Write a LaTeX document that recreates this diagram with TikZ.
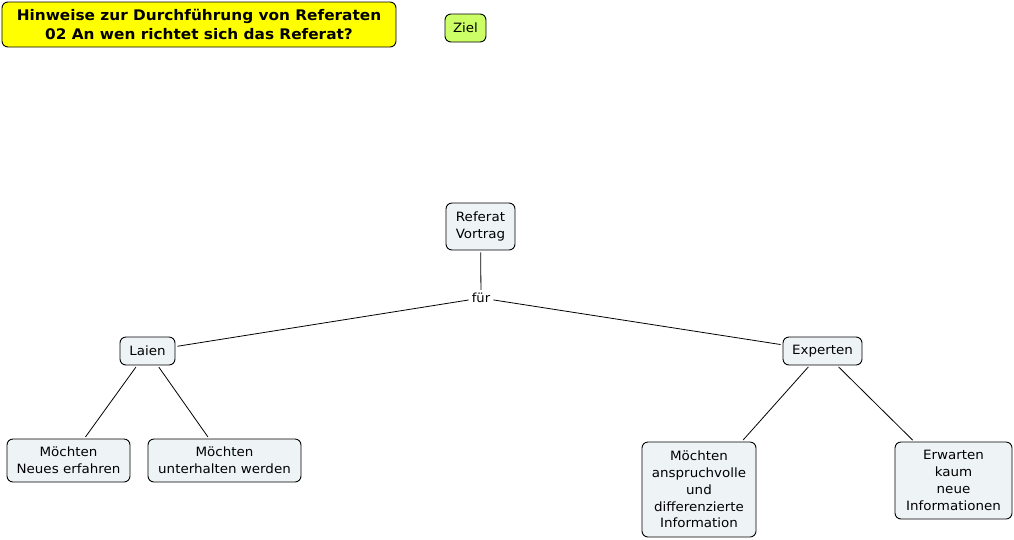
\documentclass[tikz,border=0pt]{standalone}
\usepackage{fontspec}
\setmainfont{DejaVu Sans}[FakeStretch=1.05]
\definecolor{conceptfill}{RGB}{238,244,246}
\definecolor{titlefill}{RGB}{255,255,0}
\definecolor{zielfill}{RGB}{204,255,102}
\begin{document}
\begin{tikzpicture}[
			x=1pt,y=-1pt,
			concept/.style={draw,line width=0.9pt,rounded corners=6pt,fill=conceptfill,align=center,
				font=\fontsize{12.8}{16.8}\selectfont,inner xsep=4pt,inner ysep=3pt},
			linkword/.style={font=\fontsize{12.5}{14}\selectfont,inner sep=1pt},
			link/.style={draw,line width=0.8pt,shorten >=2pt,shorten <=2pt}
		]
			\useasboundingbox (0,0) rectangle (1014,539);
			% header
			\node[draw,line width=0.9pt,rounded corners=6pt,fill=titlefill,align=center,minimum width=394pt,minimum height=45pt,
				font=\fontsize{14.6}{19}\selectfont\bfseries] (title) at (199,24.5)
				{Hinweise zur Durchführung von Referaten\\02 An wen richtet sich das Referat?};
			\node[concept,fill=zielfill,minimum width=41pt,minimum height=28pt] (ziel) at (465.5,28) {Ziel};
			% map
			\node[concept,minimum width=69pt,minimum height=47pt] (referat) at (480.5,226.5) {Referat\\Vortrag};
			\node[linkword] (fuer) at (481,298) {für};
			\node[concept,minimum width=55pt,minimum height=28pt] (laien) at (147.5,351) {Laien};
			\node[concept,minimum width=79pt,minimum height=28pt] (experten) at (822.5,351) {Experten};
			\node[concept,minimum width=123pt,minimum height=43pt] (neues) at (68.5,460.5) {Möchten\\Neues erfahren};
			\node[concept,minimum width=153pt,minimum height=43pt] (unterhalten) at (224.5,460.5) {Möchten\\unterhalten werden};
			\node[concept,minimum width=114pt,minimum height=95pt] (anspruch) at (699,489.5)
				{Möchten\\anspruchvolle\\und\\differenzierte\\Information};
			\node[concept,minimum width=117pt,minimum height=77pt] (erwarten) at (953.5,480.5)
				{Erwarten\\kaum\\neue\\Informationen};
			% connections
			\draw[link] (referat) -- (fuer);
			\draw[link] (fuer) -- (laien);
			\draw[link] (fuer) -- (experten);
			\draw[link] (laien) -- (neues);
			\draw[link] (laien) -- (unterhalten);
			\draw[link] (experten) -- (anspruch);
			\draw[link] (experten) -- (erwarten);
		\end{tikzpicture}
\end{document}
